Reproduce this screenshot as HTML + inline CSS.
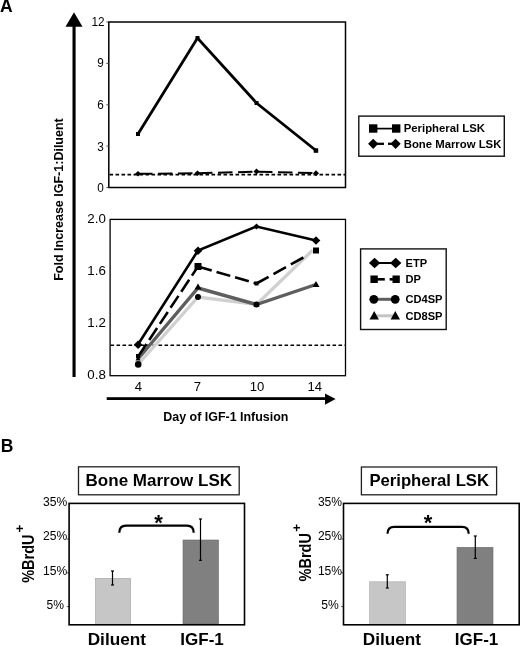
<!DOCTYPE html>
<html><head><meta charset="utf-8">
<style>
html,body{margin:0;padding:0;background:#fff;}
body{width:520px;height:646px;overflow:hidden;}
svg{display:block;font-family:"Liberation Sans",Arial,sans-serif;}
.b{font-weight:bold;}
</style></head><body>
<svg width="520" height="646" viewBox="0 0 520 646">
<rect width="520" height="646" fill="#fff"/>
<!-- Panel A -->
<text x="0" y="12.400" class="b" font-size="17.500">A</text>
<!-- y arrow -->
<rect x="72.500" y="25" width="3.100" height="352" fill="#000"/>
<polygon points="74,12.300 82.500,26.800 65.500,26.800" fill="#000"/>
<text transform="translate(63,199.5) rotate(-90)" text-anchor="middle" class="b" font-size="12.5">Fold Increase IGF-1:Diluent</text>
<!-- top plot -->
<rect x="108.800" y="22" width="236.700" height="165.500" fill="none" stroke="#000" stroke-width="1.500"/>
<g font-size="12.800" text-anchor="end" fill="#000">
<text transform="translate(104.600,25.600) scale(0.92,1)">12</text>
<text transform="translate(103.700,67) scale(0.92,1)">9</text>
<text transform="translate(103.700,109) scale(0.92,1)">6</text>
<text transform="translate(103.700,150.500) scale(0.92,1)">3</text>
<text transform="translate(103.700,192) scale(0.92,1)">0</text>
</g>
<g stroke="#444" stroke-width="0.900">
<line x1="106.300" y1="22" x2="108.800" y2="22"/>
<line x1="106.300" y1="63.400" x2="108.800" y2="63.400"/>
<line x1="106.300" y1="104.800" x2="108.800" y2="104.800"/>
<line x1="106.300" y1="146.100" x2="108.800" y2="146.100"/>
<line x1="106.300" y1="187.500" x2="108.800" y2="187.500"/>
</g>
<line x1="109.500" y1="174.600" x2="345" y2="174.600" stroke="#000" stroke-width="1.600" stroke-dasharray="3.600,2.400"/>
<polyline points="138,134 197.500,38 256.500,103 316,150.500" fill="none" stroke="#000" stroke-width="2.800"/>
<g fill="#000">
<rect x="136" y="132" width="4" height="4"/>
<rect x="195.500" y="36" width="4" height="4"/>
<rect x="254.500" y="101" width="4" height="4"/>
<rect x="313.700" y="148.300" width="4.500" height="4.500"/>
</g>
<polyline points="138,173.800 197.500,173.300 256.500,171.600 316,173.200" fill="none" stroke="#000" stroke-width="2" stroke-dasharray="14.500,5.500"/>
<g fill="#000">
<polygon points="138,171 141,173.800 138,176.600 135,173.800"/>
<polygon points="197.500,170.500 200.500,173.300 197.500,176.100 194.500,173.300"/>
<polygon points="256.500,168.600 259.500,171.600 256.500,174.600 253.500,171.600"/>
<polygon points="316,170.200 319,173.200 316,176.200 313,173.200"/>
</g>
<!-- legend 1 -->
<rect x="358.800" y="116.100" width="145.500" height="40.100" fill="#fff" stroke="#111" stroke-width="1.400"/>
<line x1="373" y1="128.600" x2="397" y2="128.600" stroke="#000" stroke-width="1.700"/>
<rect x="369" y="124.300" width="8.400" height="8.400" fill="#000"/>
<rect x="392" y="124.300" width="8.400" height="8.400" fill="#000"/>
<text x="403.700" y="132.300" class="b" font-size="11.350">Peripheral LSK</text>
<line x1="373" y1="143.800" x2="384" y2="143.800" stroke="#000" stroke-width="2.300"/>
<line x1="388" y1="143.800" x2="396" y2="143.800" stroke="#000" stroke-width="2.300"/>
<polygon points="373.200,138.700 378.300,143.800 373.200,148.900 368.100,143.800" fill="#000"/>
<polygon points="395.600,138.700 400.700,143.800 395.600,148.900 390.500,143.800" fill="#000"/>
<text x="403.700" y="147.800" class="b" font-size="11.350">Bone Marrow LSK</text>
<!-- bottom plot -->
<rect x="110.100" y="219.400" width="235.400" height="156.300" fill="none" stroke="#000" stroke-width="1.300"/>
<g font-size="13.300" text-anchor="end" fill="#000">
<text x="105.800" y="223.400">2.0</text>
<text x="105.800" y="275.400">1.6</text>
<text x="105.800" y="327.400">1.2</text>
<text x="105.800" y="379.300">0.8</text>
</g>
<g font-size="13.100" text-anchor="middle" fill="#000">
<text x="138.500" y="390.800">4</text>
<text x="197.500" y="390.800">7</text>
<text x="257" y="390.800">10</text>
<text x="314.800" y="390.800">14</text>
</g>
<line x1="110.500" y1="345.300" x2="345" y2="345.300" stroke="#000" stroke-width="1.600" stroke-dasharray="3.600,2.400"/>
<!-- light gray (circles) -->
<polyline points="138,364.500 198,297 256.500,304.500 312.500,250.300" fill="none" stroke="#d0d0d0" stroke-width="3.300"/>
<!-- dark gray (triangles) -->
<polyline points="138,359 198,288 256.500,304.500 316,284.500" fill="none" stroke="#5e5e5e" stroke-width="3.400"/>
<!-- DP dashed -->
<g fill="none" stroke="#000" stroke-width="2.600">
<polyline points="138.500,356 198,266.500" stroke-dasharray="14.300,5"/>
<polyline points="198,266.500 256.500,283.500" stroke-dasharray="14.300,5"/>
<polyline points="256.500,283.500 316,250.500" stroke-dasharray="13.800,5.600,14.300,5.600,14.300,40"/>
</g>
<!-- ETP -->
<polyline points="138,344.500 198,250.500 256.500,226.500 316,240.500" fill="none" stroke="#000" stroke-width="2.600"/>
<g fill="#000">
<circle cx="138.200" cy="364.400" r="3.300"/>
<circle cx="198" cy="297" r="3"/>
<circle cx="256.500" cy="304.500" r="3"/>
<polygon points="138,355.500 140.500,360.500 135.500,360.500"/>
<polygon points="198,283.500 201.500,289.500 194.500,289.500"/>
<polygon points="256.500,301.500 259.500,307 253.500,307"/>
<polygon points="316,281 319.500,287 312.500,287"/>
<rect x="136" y="354" width="4" height="4"/>
<rect x="194.500" y="263" width="7" height="7"/>
<rect x="254.500" y="281.500" width="4" height="4"/>
<rect x="313" y="247.500" width="6" height="6"/>
<polygon points="138.100,340.400 142.400,344.700 138.100,349 133.800,344.700"/>
<polygon points="198,246.400 202.300,250.700 198,255 193.700,250.700"/>
<polygon points="256.500,223.500 259.500,226.500 256.500,229.500 253.500,226.500"/>
<polygon points="316,236.200 320.300,240.500 316,244.800 311.700,240.500"/>
</g>
<!-- x arrow -->
<rect x="106.700" y="397.200" width="220" height="2.800" fill="#000"/>
<polygon points="335.600,399 325,393.400 325,404.700" fill="#000"/>
<text x="163.300" y="420.500" class="b" font-size="12.450">Day of IGF-1 Infusion</text>
<!-- legend 2 -->
<rect x="360.600" y="248.900" width="85.600" height="80.600" fill="#fff" stroke="#111" stroke-width="1.400"/>
<line x1="375" y1="263" x2="396" y2="263" stroke="#000" stroke-width="2"/>
<polygon points="374.600,257.800 380.300,263 374.600,268.200 368.900,263" fill="#000"/>
<polygon points="395.700,257.800 401.400,263 395.700,268.200 390,263" fill="#000"/>
<text x="405.500" y="266.600" class="b" font-size="11.100">ETP</text>
<line x1="374" y1="279.300" x2="384.800" y2="279.300" stroke="#000" stroke-width="2.600"/>
<line x1="389.600" y1="279.300" x2="397" y2="279.300" stroke="#000" stroke-width="2.600"/>
<rect x="370.400" y="275.500" width="7.400" height="7.500" fill="#000"/>
<rect x="392.500" y="275.500" width="7.300" height="7.500" fill="#000"/>
<text x="405.500" y="283.300" class="b" font-size="11.100">DP</text>
<line x1="374" y1="299.300" x2="396" y2="299.300" stroke="#5e5e5e" stroke-width="3"/>
<circle cx="373.800" cy="299.300" r="4.400" fill="#000"/>
<circle cx="395.200" cy="299.300" r="4.400" fill="#000"/>
<text x="405.500" y="303" class="b" font-size="11.100">CD4SP</text>
<line x1="376" y1="315.800" x2="394" y2="315.800" stroke="#c4c4c4" stroke-width="3"/>
<polygon points="374.200,311 378.900,319.600 369.500,319.600" fill="#000"/>
<polygon points="395.300,311 400,319.600 390.600,319.600" fill="#000"/>
<text x="405.500" y="319.800" class="b" font-size="11.100">CD8SP</text>

<!-- Panel B -->
<text x="0.700" y="451.600" class="b" font-size="17.500">B</text>
<!-- left bar chart -->
<rect x="78.500" y="466.800" width="160.700" height="28" fill="#fff" stroke="#222" stroke-width="1.300"/>
<text x="158.800" y="486" text-anchor="middle" class="b" font-size="17">Bone Marrow LSK</text>
<rect x="95.600" y="578.500" width="35" height="46" fill="#c6c6c6" stroke="#a8a8a8" stroke-width="0.700"/>
<rect x="183" y="540" width="35.500" height="84" fill="#808080" stroke="#6a6a6a" stroke-width="0.600"/>
<g stroke="#444" stroke-width="0.900"><line x1="66.800" y1="539" x2="69" y2="539"/><line x1="66.800" y1="572.800" x2="69" y2="572.800"/><line x1="66.800" y1="606.600" x2="69" y2="606.600"/></g>
<rect x="69.100" y="503.400" width="175.400" height="121.400" fill="none" stroke="#000" stroke-width="1.600"/>
<g font-size="12.100" text-anchor="end" fill="#000">
<text x="67.200" y="505.500">35%</text>
<text x="67.200" y="540.300">25%</text>
<text x="67.200" y="575">15%</text>
<text x="63.900" y="609.300">5%</text>
</g>
<g stroke="#000" stroke-width="1.200">
<line x1="112.500" y1="571" x2="112.500" y2="585"/>
<line x1="111" y1="571" x2="114" y2="571"/>
<line x1="111" y1="585" x2="114" y2="585"/>
<line x1="200.500" y1="519" x2="200.500" y2="560.300"/>
<line x1="199" y1="519" x2="202" y2="519"/>
<line x1="199" y1="560.300" x2="202" y2="560.300"/>
</g>
<path d="M119.300,532.800 C119.300,527.200 122,525.700 126,525.700 L187,525.700 C191,525.700 193.700,527.200 193.700,532.800" fill="none" stroke="#000" stroke-width="2.200"/>
<text x="158.500" y="529.800" text-anchor="middle" class="b" font-size="22">*</text>
<text transform="translate(33.700,582.800) rotate(-90) scale(0.87,1)" class="b" font-size="16.700">%BrdU</text>
<text transform="translate(24,532.600) rotate(-90)" class="b" font-size="13.500">+</text>
<text x="87.700" y="645" class="b" font-size="17.200">Diluent</text>
<text x="180.300" y="645" class="b" font-size="17">IGF-1</text>

<!-- right bar chart -->
<rect x="361.400" y="467" width="135.200" height="27.800" fill="#fff" stroke="#222" stroke-width="1.300"/>
<text x="429.200" y="486" text-anchor="middle" class="b" font-size="16.700">Peripheral LSK</text>
<rect x="369.600" y="581.800" width="35.800" height="42.500" fill="#c6c6c6" stroke="#aaa" stroke-width="0.600"/>
<rect x="457" y="547.300" width="36" height="77" fill="#808080" stroke="#6a6a6a" stroke-width="0.600"/>
<g stroke="#444" stroke-width="0.900"><line x1="341.200" y1="539" x2="343.500" y2="539"/><line x1="341.200" y1="572.800" x2="343.500" y2="572.800"/><line x1="341.200" y1="606.600" x2="343.500" y2="606.600"/></g>
<rect x="343.500" y="503.400" width="175.700" height="121.400" fill="none" stroke="#000" stroke-width="1.600"/>
<g font-size="12.100" text-anchor="end" fill="#000">
<text x="342.100" y="505.500">35%</text>
<text x="342.100" y="540.300">25%</text>
<text x="342.100" y="575">15%</text>
<text x="338.800" y="609.300">5%</text>
</g>
<g stroke="#000" stroke-width="1.200">
<line x1="387.300" y1="574.800" x2="387.300" y2="588"/>
<line x1="385.800" y1="574.800" x2="388.800" y2="574.800"/>
<line x1="385.800" y1="588" x2="388.800" y2="588"/>
<line x1="475.300" y1="536" x2="475.300" y2="558.400"/>
<line x1="473.800" y1="536" x2="476.800" y2="536"/>
<line x1="473.800" y1="558.400" x2="476.800" y2="558.400"/>
</g>
<path d="M387.500,533.800 C387.500,528.300 390.200,526.800 394.200,526.800 L462,526.800 C466,526.800 468.700,528.300 468.700,533.800" fill="none" stroke="#000" stroke-width="2.200"/>
<text x="428" y="529.800" text-anchor="middle" class="b" font-size="22">*</text>
<text transform="translate(310.600,581.500) rotate(-90) scale(0.87,1)" class="b" font-size="16.700">%BrdU</text>
<text transform="translate(300.600,531.800) rotate(-90)" class="b" font-size="13.500">+</text>
<text x="362.800" y="645" class="b" font-size="17.200">Diluent</text>
<text x="454.800" y="645" class="b" font-size="17">IGF-1</text>
</svg>
</body></html>
